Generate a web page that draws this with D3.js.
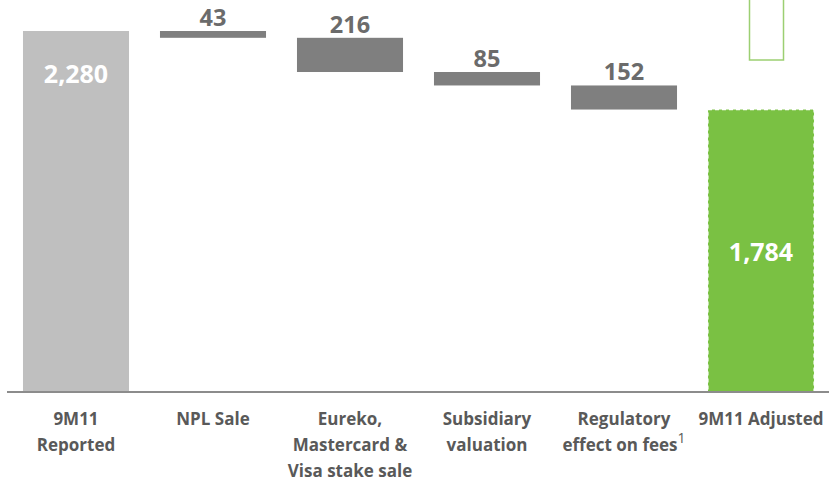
<!DOCTYPE html>
<html>
<head>
<meta charset="utf-8">
<script src="https://cdn.jsdelivr.net/npm/d3@7"></script>
<style>
  html, body { margin: 0; padding: 0; background: #fff; }
  svg { display: block; font-family: "Open Sans", "Liberation Sans", sans-serif; }
</style>
</head>
<body>
<svg id="chart" width="829" height="482"></svg>
<script>
// Waterfall: reported profit bridged to adjusted profit
const categories = [
  ["9M11", "Reported"],
  ["NPL Sale"],
  ["Eureko,", "Mastercard &", "Visa stake sale"],
  ["Subsidiary", "valuation"],
  ["Regulatory", "effect on fees"],
  ["9M11 Adjusted"]
];
const kinds = ["start", "delta", "delta", "delta", "delta", "total"];
const values = [2280, -43, -216, -85, -152, 1784];
const valueLabels = ["2,280", "43", "216", "85", "152", "1,784"];
const footnoteIndex = 4;

// running levels of the bridge
let level = 0;
const bars = values.map((v, i) => {
  let y0, y1;
  if (kinds[i] === "delta") { y0 = level; y1 = level + v; level = y1; }
  else { y0 = 0; y1 = v; level = v; }
  return { i, kind: kinds[i], lo: Math.min(y0, y1), hi: Math.max(y0, y1), label: valueLabels[i] };
});

const svg = d3.select("#chart");
const baseY = 392;
const x = d3.scaleBand().domain(d3.range(categories.length)).range([7.5, 829.5]).paddingInner(0.226).paddingOuter(0.113);
const y = d3.scaleLinear().domain([0, 2280]).range([baseY, 31]);

const fill = { start: "#bfbfbf", delta: "#7f7f7f", total: "#7ac143" };

// decorative outlined box at top right
svg.append("rect")
  .attr("x", 749.5).attr("y", -2).attr("width", 34).attr("height", 62)
  .attr("fill", "#fff").attr("stroke", "#9ccf72").attr("stroke-width", 1.5);

svg.selectAll("rect.bar").data(bars).join("rect")
  .attr("class", "bar")
  .attr("x", d => x(d.i))
  .attr("width", x.bandwidth())
  .attr("y", d => y(d.hi))
  .attr("height", d => y(d.lo) - y(d.hi))
  .attr("fill", d => fill[d.kind])
  .attr("stroke", d => d.kind === "total" ? "#ffffff" : "none")
  .attr("stroke-dasharray", d => d.kind === "total" ? "4,3" : null)
  .attr("stroke-width", 1.2);

// baseline
svg.append("line")
  .attr("x1", 7).attr("x2", 829).attr("y1", baseY).attr("y2", baseY)
  .attr("stroke", "#8c8c8c").attr("stroke-width", 2);

// value labels: start near the top of its bar, total centred, deltas above
function labelY(d) {
  if (d.kind === "delta") return y(d.hi) - 5;
  if (d.kind === "start") return y(d.hi) + 52;
  return (y(d.hi) + y(d.lo)) / 2 + 10;
}
svg.selectAll("text.val").data(bars).join("text")
  .attr("class", "val")
  .attr("x", d => x(d.i) + x.bandwidth() / 2)
  .attr("y", labelY)
  .attr("text-anchor", "middle")
  .attr("font-size", d => d.kind === "delta" ? 23.5 : 25)
  .attr("font-weight", 700)
  .attr("fill", d => d.kind === "delta" ? "#6b6b6b" : "#ffffff")
  .text(d => d.label);

// category labels
const catG = svg.append("g");
categories.forEach((lines, i) => {
  const cx = x(i) + x.bandwidth() / 2;
  const t = catG.append("text")
    .attr("x", cx)
    .attr("y", 425)
    .attr("text-anchor", "middle")
    .attr("font-size", 17)
    .attr("font-weight", 700)
    .attr("fill", "#595959");
  lines.forEach((ln, k) => {
    t.append("tspan").attr("x", cx).attr("dy", k === 0 ? 0 : 26).text(ln);
    if (i === footnoteIndex && k === lines.length - 1) {
      t.append("tspan").attr("dy", -8).attr("font-size", 14).attr("font-weight", 400).text("1");
    }
  });
});
</script>
</body>
</html>
